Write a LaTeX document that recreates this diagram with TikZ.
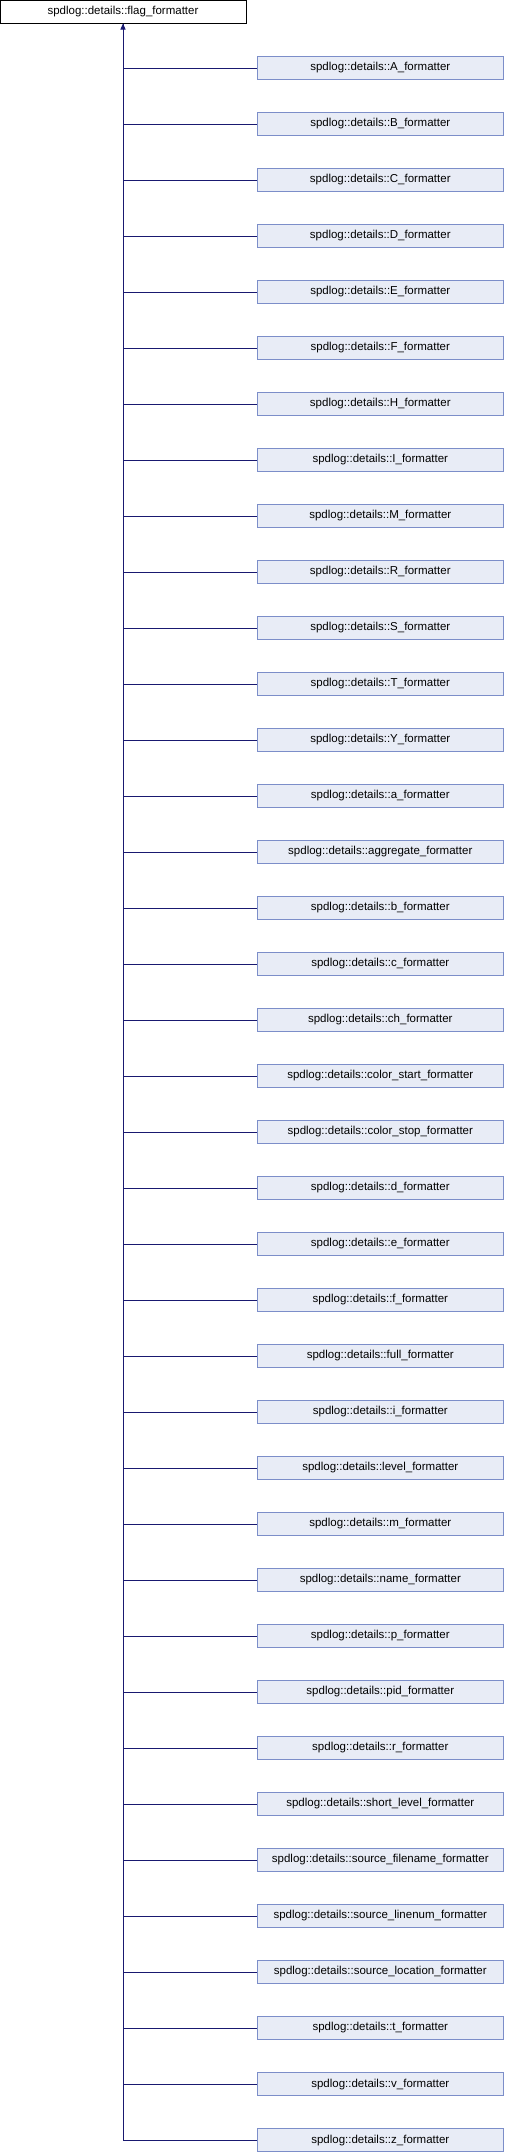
\documentclass[tikz,border=0pt]{standalone}
\usepackage{fontspec}
\setmainfont{Liberation Sans}
\usepackage{xcolor}
\usetikzlibrary{positioning,arrows.meta}
\definecolor{edgeblue}{HTML}{191970}
\definecolor{boxfill}{HTML}{E8ECF6}
\definecolor{boxline}{HTML}{7C8EC9}

\begin{document}
\begin{tikzpicture}[
    x=1pt, y=-1pt,
    node distance=32pt,
    base/.style={rectangle, draw=black, fill=white, line width=1pt, minimum width=246pt, minimum height=23pt, inner sep=0pt, font=\fontsize{11.5}{13}\selectfont},
    child/.style={base, draw=boxline, fill=boxfill},
    edge/.style={draw=edgeblue, line width=1pt},
    arrow/.style={edge, -{Triangle[length=6pt, width=5pt]}}
]
    \useasboundingbox (0,0) rectangle (504,2152);

    % Base class
    \node[base] (flag) at (123,11.5) {spdlog::details::flag\_formatter};

    % Derived classes
    \node[child] (A) at (380.3,68) {spdlog::details::A\_formatter};
    \node[child, below=of A] (B) {spdlog::details::B\_formatter};
    \node[child, below=of B] (C) {spdlog::details::C\_formatter};
    \node[child, below=of C] (D) {spdlog::details::D\_formatter};
    \node[child, below=of D] (E) {spdlog::details::E\_formatter};
    \node[child, below=of E] (F) {spdlog::details::F\_formatter};
    \node[child, below=of F] (H) {spdlog::details::H\_formatter};
    \node[child, below=of H] (I) {spdlog::details::I\_formatter};
    \node[child, below=of I] (M) {spdlog::details::M\_formatter};
    \node[child, below=of M] (R) {spdlog::details::R\_formatter};
    \node[child, below=of R] (S) {spdlog::details::S\_formatter};
    \node[child, below=of S] (T) {spdlog::details::T\_formatter};
    \node[child, below=of T] (Y) {spdlog::details::Y\_formatter};
    \node[child, below=of Y] (a) {spdlog::details::a\_formatter};
    \node[child, below=of a] (aggregate) {spdlog::details::aggregate\_formatter};
    \node[child, below=of aggregate] (b) {spdlog::details::b\_formatter};
    \node[child, below=of b] (c) {spdlog::details::c\_formatter};
    \node[child, below=of c] (ch) {spdlog::details::ch\_formatter};
    \node[child, below=of ch] (colorstart) {spdlog::details::color\_start\_formatter};
    \node[child, below=of colorstart] (colorstop) {spdlog::details::color\_stop\_formatter};
    \node[child, below=of colorstop] (d) {spdlog::details::d\_formatter};
    \node[child, below=of d] (e) {spdlog::details::e\_formatter};
    \node[child, below=of e] (f) {spdlog::details::f\_formatter};
    \node[child, below=of f] (full) {spdlog::details::full\_formatter};
    \node[child, below=of full] (i) {spdlog::details::i\_formatter};
    \node[child, below=of i] (level) {spdlog::details::level\_formatter};
    \node[child, below=of level] (m) {spdlog::details::m\_formatter};
    \node[child, below=of m] (name) {spdlog::details::name\_formatter};
    \node[child, below=of name] (p) {spdlog::details::p\_formatter};
    \node[child, below=of p] (pid) {spdlog::details::pid\_formatter};
    \node[child, below=of pid] (r) {spdlog::details::r\_formatter};
    \node[child, below=of r] (shortlevel) {spdlog::details::short\_level\_formatter};
    \node[child, below=of shortlevel] (srcfile) {spdlog::details::source\_filename\_formatter};
    \node[child, below=of srcfile] (srcline) {spdlog::details::source\_linenum\_formatter};
    \node[child, below=of srcline] (srcloc) {spdlog::details::source\_location\_formatter};
    \node[child, below=of srcloc] (t) {spdlog::details::t\_formatter};
    \node[child, below=of t] (v) {spdlog::details::v\_formatter};
    \node[child, below=of v] (z) {spdlog::details::z\_formatter};

    % Inheritance arrows
    \draw[arrow] (z.west) -| (flag.south);
    \draw[edge] (A.west) -| (flag.south);
    \draw[edge] (B.west) -| (flag.south);
    \draw[edge] (C.west) -| (flag.south);
    \draw[edge] (D.west) -| (flag.south);
    \draw[edge] (E.west) -| (flag.south);
    \draw[edge] (F.west) -| (flag.south);
    \draw[edge] (H.west) -| (flag.south);
    \draw[edge] (I.west) -| (flag.south);
    \draw[edge] (M.west) -| (flag.south);
    \draw[edge] (R.west) -| (flag.south);
    \draw[edge] (S.west) -| (flag.south);
    \draw[edge] (T.west) -| (flag.south);
    \draw[edge] (Y.west) -| (flag.south);
    \draw[edge] (a.west) -| (flag.south);
    \draw[edge] (aggregate.west) -| (flag.south);
    \draw[edge] (b.west) -| (flag.south);
    \draw[edge] (c.west) -| (flag.south);
    \draw[edge] (ch.west) -| (flag.south);
    \draw[edge] (colorstart.west) -| (flag.south);
    \draw[edge] (colorstop.west) -| (flag.south);
    \draw[edge] (d.west) -| (flag.south);
    \draw[edge] (e.west) -| (flag.south);
    \draw[edge] (f.west) -| (flag.south);
    \draw[edge] (full.west) -| (flag.south);
    \draw[edge] (i.west) -| (flag.south);
    \draw[edge] (level.west) -| (flag.south);
    \draw[edge] (m.west) -| (flag.south);
    \draw[edge] (name.west) -| (flag.south);
    \draw[edge] (p.west) -| (flag.south);
    \draw[edge] (pid.west) -| (flag.south);
    \draw[edge] (r.west) -| (flag.south);
    \draw[edge] (shortlevel.west) -| (flag.south);
    \draw[edge] (srcfile.west) -| (flag.south);
    \draw[edge] (srcline.west) -| (flag.south);
    \draw[edge] (srcloc.west) -| (flag.south);
    \draw[edge] (t.west) -| (flag.south);
    \draw[edge] (v.west) -| (flag.south);
\end{tikzpicture}
\end{document}
